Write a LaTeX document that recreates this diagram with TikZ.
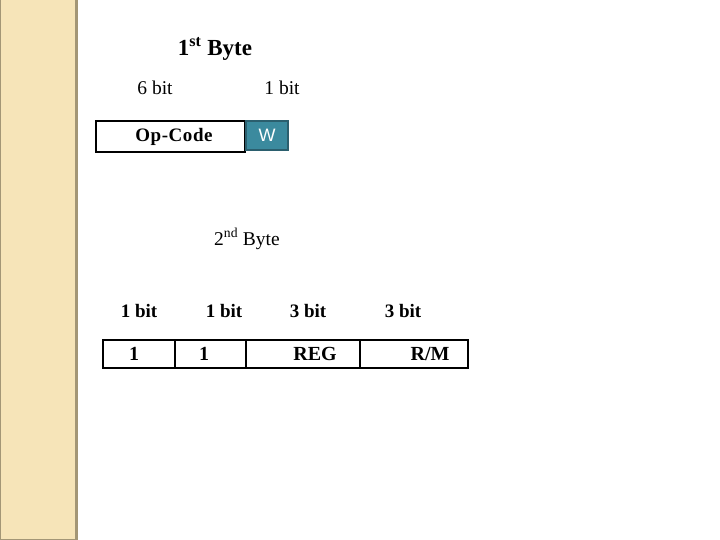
\documentclass[tikz,border=0pt]{standalone}
\usepackage{fontspec}
\setmainfont{Liberation Serif}
\newfontfamily\sansf{Liberation Sans}
\definecolor{strip}{HTML}{F6E4B8}
\definecolor{stripedge}{HTML}{A39676}
\definecolor{wfill}{HTML}{3B8A9E}
\definecolor{wedge}{HTML}{2B5F6E}
\tikzset{
  lbl/.style={inner sep=0pt, font=\fontsize{19.5}{22}\selectfont},
  blbl/.style={inner sep=0pt, font=\bfseries\fontsize{19}{22}\selectfont},
  field/.style={draw=black, line width=1.2pt}
}
\begin{document}
\begin{tikzpicture}[x=1pt,y=-1pt]
\useasboundingbox (0,0) rectangle (720,540);
\fill[white] (0,0) rectangle (720,540);
% left strip
\fill[strip] (0,0) rectangle (76,540);
\fill[stripedge] (75,0) rectangle (78,540);
\fill[stripedge] (0,0) rectangle (1,540);
\fill[stripedge] (0,539) rectangle (78,540);
% 1st byte
\node[inner sep=0pt, font=\bfseries\fontsize{23}{26}\selectfont] (b1) at (215,49) {1\textsuperscript{st} Byte};
\node[lbl] (s6) at (155,88) {6 bit};
\node[lbl] (s1) at (282,88) {1 bit};
\draw[field] (96,121) rectangle (245,152);
\node[inner sep=0pt, font=\bfseries\fontsize{19}{22}\selectfont] (op) at (174,137) {\addfontfeature{LetterSpace=3}Op-Code};
\draw[wedge, fill=wfill, line width=2pt] (246,121) rectangle (288,150);
\node[inner sep=0pt, text=white, font=\sansf\fontsize{18}{20}\selectfont] (w) at (267,135.5) {W};
% 2nd byte
\node[inner sep=0pt, font=\fontsize{19.5}{22}\selectfont] (b2) at (247,239) {2\textsuperscript{nd} Byte};
\node[blbl] (t1) at (139,311) {1 bit};
\node[blbl] (t2) at (224,311) {1 bit};
\node[blbl] (t3) at (308,311) {3 bit};
\node[blbl] (t4) at (403,311) {3 bit};
\draw[field] (103,340) rectangle (468,368);
\draw[field] (175,340) -- (175,368);
\draw[field] (246,340) -- (246,368);
\draw[field] (360,340) -- (360,368);
\node[blbl, font=\bfseries\fontsize{20}{22}\selectfont] (f1) at (134,354) {1};
\node[blbl, font=\bfseries\fontsize{20}{22}\selectfont] (f2) at (204,354) {1};
\node[blbl, font=\bfseries\fontsize{20}{22}\selectfont] (f3) at (315,354) {REG};
\node[blbl, font=\bfseries\fontsize{20}{22}\selectfont] (f4) at (430,354) {R/M};
\end{tikzpicture}
\end{document}
